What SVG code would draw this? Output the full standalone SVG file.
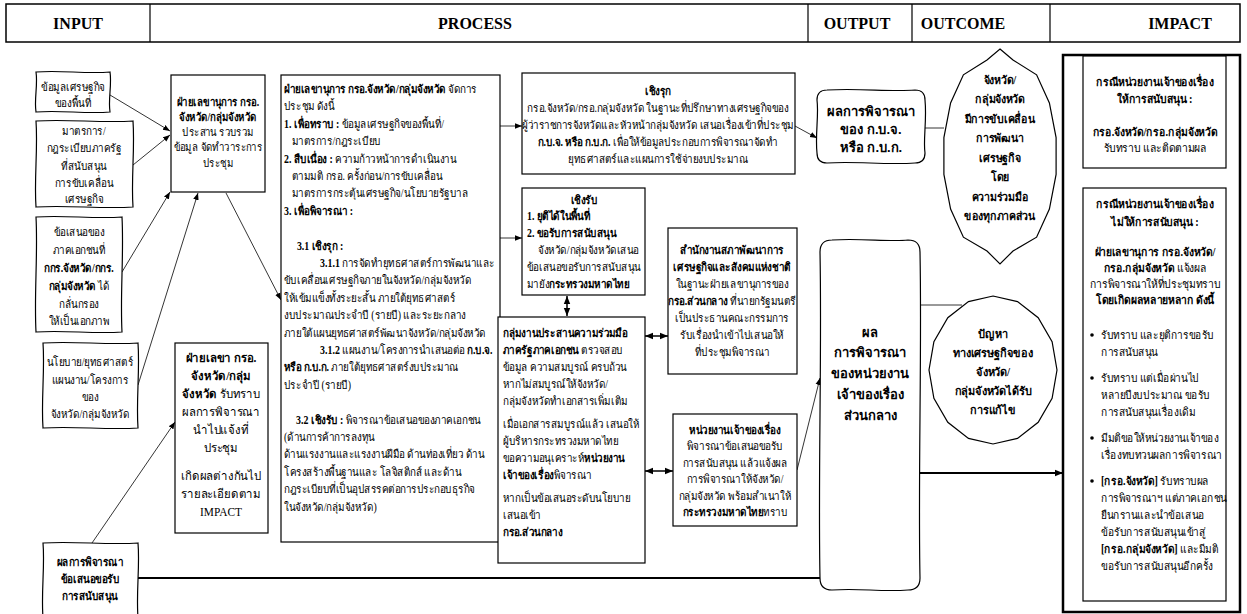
<svg xmlns="http://www.w3.org/2000/svg" width="1247" height="614" viewBox="0 0 1247 614">
<defs>
<style>
.t{font-family:"Liberation Serif",serif;font-size:11.5px;fill:#000}
.g{font-size:12px}
.b{font-weight:bold}
.m{text-anchor:middle}
.hd{font-family:"Liberation Serif",serif;font-size:16px;font-weight:bold;text-anchor:middle;fill:#000}
.sn{font-family:"Liberation Sans",sans-serif;font-size:13px;font-weight:bold;text-anchor:middle;fill:#000}
.bx{fill:#fff;stroke:#000;stroke-width:1.2}
.sk{fill:#fff;stroke:#000;stroke-width:1.2}
.ln{fill:none;stroke:#000;stroke-width:0.8}
.lnb{fill:none;stroke:#000;stroke-width:2}
.lnm{fill:none;stroke:#000;stroke-width:1.5}
</style>
<marker id="ah" viewBox="0 0 10 10" refX="10" refY="5" markerWidth="7" markerHeight="7" markerUnits="userSpaceOnUse" orient="auto-start-reverse"><path d="M0,1 L10,5 L0,9 Z" fill="#000"/></marker>
<marker id="ahb" viewBox="0 0 10 10" refX="10" refY="5" markerWidth="8" markerHeight="8" markerUnits="userSpaceOnUse" orient="auto-start-reverse"><path d="M0,1 L10,5 L0,9 Z" fill="#000"/></marker>
</defs>
<rect width="1247" height="614" fill="#fff"/>

<g id="header">
<rect x="6" y="4" width="1234" height="38" fill="none" stroke="#000" stroke-width="1.5"/>
<path d="M150,4V42M808,4V42M912,4V42M1050,4V42" stroke="#000" stroke-width="1.2"/>
<text class="hd" x="78" y="29">INPUT</text>
<text class="hd" x="475" y="29">PROCESS</text>
<text class="hd" x="857" y="29">OUTPUT</text>
<text class="hd" x="963" y="29">OUTCOME</text>
<text class="hd" x="1180" y="29">IMPACT</text>
</g>

<g id="connectors">
<path class="ln" d="M110,95L170,131" marker-end="url(#ah)"/>
<path class="ln" d="M133,165L170,135" marker-end="url(#ah)"/>
<path class="ln" d="M122,272L170,192" marker-end="url(#ah)"/>
<path class="ln" d="M138,385L198,193" marker-end="url(#ah)"/>
<path class="ln" d="M226,193L281,300" marker-end="url(#ah)"/>
<path class="ln" d="M92,543L175,422" marker-end="url(#ah)"/>
<path class="ln" d="M500,126H522" marker-end="url(#ah)"/>
<path class="ln" d="M500,238H522" marker-end="url(#ah)"/>
<path class="ln" d="M795,126L817,138" marker-end="url(#ah)"/>
<path class="lnm" d="M567,296V316" marker-start="url(#ahb)" marker-end="url(#ahb)"/>
<path class="lnm" d="M645,336H668" marker-start="url(#ahb)" marker-end="url(#ahb)"/>
<path class="lnm" d="M645,471H673" marker-start="url(#ahb)" marker-end="url(#ahb)"/>
<path class="ln" d="M797,470L820,378" marker-end="url(#ah)"/>
<path class="ln" d="M925,128H944"/>
<path class="ln" d="M920,305H962"/>
<path class="lnb" d="M920,473H1063" marker-end="url(#ahb)"/>
<path class="lnb" d="M138,578H820"/>
</g>

<g id="n-econ-data">
<path class="sk" d="M36,72 C61,70 85,74 110,72 C112,85 108,99 110,112 C85,114 61,110 36,112 C34,99 38,85 36,72Z"/>
<g transform="matrix(0.86,0,0,1,10.22,0)">
<text class="t m" x="73" y="91">ข้อมูลเศรษฐกิจ</text>
<text class="t m" x="73" y="107">ของพื้นที่</text>
</g>
</g>

<g id="n-measures">
<path class="sk" d="M36,121 C68,119 101,123 133,121 C135,150 131,178 133,207 C101,209 68,205 36,207 C34,178 38,150 36,121Z"/>
<g transform="matrix(0.86,0,0,1,11.76,0)">
<text class="t m" x="84" y="135">มาตรการ/</text>
<text class="t m" x="84" y="152">กฎระเบียบภาครัฐ</text>
<text class="t m" x="84" y="170">ที่สนับสนุน</text>
<text class="t m" x="84" y="187">การขับเคลื่อน</text>
<text class="t m" x="84" y="203">เศรษฐกิจ</text>
</g>
</g>

<g id="n-private">
<path class="sk" d="M36,217 C65,215 93,219 122,217 C124,255 120,294 122,332 C93,334 65,330 36,332 C34,294 38,255 36,217Z"/>
<g transform="matrix(0.86,0,0,1,11.06,0)">
<text class="t m" x="79" y="236">ข้อเสนอของ</text>
<text class="t m" x="79" y="254">ภาคเอกชนที่</text>
<text class="t m b" x="79" y="272">กกร.จังหวัด/กกร.</text>
<text class="t m" x="79" y="290"><tspan class="b">กลุ่มจังหวัด</tspan> ได้</text>
<text class="t m" x="79" y="308">กลั่นกรอง</text>
<text class="t m" x="79" y="325">ให้เป็นเอกภาพ</text>
</g>
</g>

<g id="n-policy">
<path class="sk" d="M43,343 C75,341 106,345 138,343 C140,371 136,400 138,428 C106,430 75,426 43,428 C41,400 45,371 43,343Z"/>
<g transform="matrix(0.86,0,0,1,12.6,0)">
<text class="t m" x="90" y="366">นโยบาย/ยุทธศาสตร์</text>
<text class="t m" x="90" y="384">แผนงาน/โครงการ</text>
<text class="t m" x="90" y="401">ของ</text>
<text class="t m" x="90" y="418">จังหวัด/กลุ่มจังหวัด</text>
</g>
</g>

<g id="n-result">
<path class="sk" d="M43,543 C75,541 106,545 138,543 C140,567 136,592 138,618 L43,618 C41,592 45,567 43,543Z"/>
<g transform="matrix(0.86,0,0,1,12.6,0)">
<text class="t m b" x="90" y="566">ผลการพิจารณา</text>
<text class="t m b" x="90" y="583">ข้อเสนอขอรับ</text>
<text class="t m b" x="90" y="600">การสนับสนุน</text>
</g>
</g>

<g id="n-secretariat">
<rect class="bx" x="171" y="75" width="94" height="117"/>
<g transform="matrix(0.84,0,0,1,34.88,0)">
<text class="t m b" x="218" y="106">ฝ่ายเลขานุการ กรอ.</text>
<text class="t m b" x="218" y="121">จังหวัด/กลุ่มจังหวัด</text>
<text class="t m" x="218" y="136">ประสาน รวบรวม</text>
<text class="t m" x="218" y="151">ข้อมูล จัดทำวาระการ</text>
<text class="t m" x="218" y="167">ประชุม</text>
</g>
</g>

<g id="n-secretariat-ack">
<rect class="bx" x="175" y="343" width="93" height="190"/>
<g transform="matrix(0.95,0,0,1,11.05,0)">
<text class="t g m b" x="221" y="362">ฝ่ายเลขา กรอ.</text>
<text class="t g m b" x="221" y="380">จังหวัด/กลุ่ม</text>
<text class="t g m" x="221" y="398"><tspan class="b">จังหวัด</tspan> รับทราบ</text>
<text class="t g m" x="221" y="416">ผลการพิจารณา</text>
<text class="t g m" x="221" y="434">นำไปแจ้งที่</text>
<text class="t g m" x="221" y="452">ประชุม</text>
<text class="t g m" x="221" y="480">เกิดผลต่างกันไป</text>
<text class="t g m" x="221" y="498">รายละเอียดตาม</text>
<text class="t g m" x="221" y="516">IMPACT</text>
</g>
</g>

<g id="n-meeting">
<rect class="bx" x="281" y="75" width="219" height="467"/>
<g transform="matrix(0.86,0,0,1,39.76,0)">
<text class="t" x="284" y="93"><tspan class="b">ฝ่ายเลขานุการ กรอ.จังหวัด/กลุ่มจังหวัด</tspan> จัดการ</text>
<text class="t" x="284" y="110">ประชุม ดังนี้</text>
<text class="t" x="284" y="128"><tspan class="b">1. เพื่อทราบ :</tspan> ข้อมูลเศรษฐกิจของพื้นที่/</text>
<text class="t" x="293.3" y="145">มาตรการ/กฎระเบียบ</text>
<text class="t" x="284" y="163"><tspan class="b">2. สืบเนื่อง :</tspan> ความก้าวหน้าการดำเนินงาน</text>
<text class="t" x="293.3" y="180">ตามมติ กรอ. ครั้งก่อน/การขับเคลื่อน</text>
<text class="t" x="293.3" y="197">มาตรการกระตุ้นเศรษฐกิจ/นโยบายรัฐบาล</text>
<text class="t b" x="284" y="215">3. เพื่อพิจารณา :</text>
<text class="t b" x="299" y="250">3.1 เชิงรุก :</text>
<text class="t" x="326" y="267"><tspan class="b">3.1.1</tspan> การจัดทำยุทธศาสตร์การพัฒนาและ</text>
<text class="t" x="284" y="284">ขับเคลื่อนเศรษฐกิจภายในจังหวัด/กลุ่มจังหวัด</text>
<text class="t" x="284" y="302">ให้เข้มแข็งทั้งระยะสั้น ภายใต้ยุทธศาสตร์</text>
<text class="t" x="284" y="319">งบประมาณประจำปี (รายปี) และระยะกลาง</text>
<text class="t" x="284" y="337">ภายใต้แผนยุทธศาสตร์พัฒนาจังหวัด/กลุ่มจังหวัด</text>
<text class="t" x="326" y="354"><tspan class="b">3.1.2</tspan> แผนงาน/โครงการนำเสนอต่อ <tspan class="b">ก.บ.จ.</tspan></text>
<text class="t" x="284" y="371"><tspan class="b">หรือ ก.บ.ก.</tspan> ภายใต้ยุทธศาสตร์งบประมาณ</text>
<text class="t" x="284" y="389">ประจำปี (รายปี)</text>
<text class="t" x="298" y="424"><tspan class="b">3.2 เชิงรับ :</tspan> พิจารณาข้อเสนอของภาคเอกชน</text>
<text class="t" x="284" y="441">(ด้านการค้าการลงทุน</text>
<text class="t" x="284" y="458">ด้านแรงงานและแรงงานฝีมือ ด้านท่องเที่ยว ด้าน</text>
<text class="t" x="284" y="476">โครงสร้างพื้นฐานและ โลจิสติกส์ และด้าน</text>
<text class="t" x="284" y="493">กฎระเบียบที่เป็นอุปสรรคต่อการประกอบธุรกิจ</text>
<text class="t" x="284" y="511">ในจังหวัด/กลุ่มจังหวัด)</text>
</g>
</g>

<g id="n-proactive">
<rect class="bx" x="522" y="73" width="273" height="101"/>
<g transform="matrix(0.86,0,0,1,92.12,0)">
<text class="t m b" x="658" y="95">เชิงรุก</text>
<text class="t m" x="658" y="112">กรอ.จังหวัด/กรอ.กลุ่มจังหวัด ในฐานะที่ปรึกษาทางเศรษฐกิจของ</text>
<text class="t m" x="658" y="129">ผู้ว่าราชการจังหวัดและหัวหน้ากลุ่มจังหวัด เสนอเรื่องเข้าที่ประชุม</text>
<text class="t m" x="658" y="146"><tspan class="b">ก.บ.จ. หรือ ก.บ.ก.</tspan> เพื่อให้ข้อมูลประกอบการพิจารณาจัดทำ</text>
<text class="t m" x="658" y="163">ยุทธศาสตร์และแผนการใช้จ่ายงบประมาณ</text>
</g>
</g>

<g id="n-reactive">
<rect class="bx" x="522" y="188" width="123" height="107"/>
<g transform="matrix(0.86,0,0,1,73.78,0)">
<text class="t m b" x="593.3" y="204">เชิงรับ</text>
<text class="t b" x="527" y="220">1. ยุติได้ในพื้นที่</text>
<text class="t b" x="527" y="237">2. ขอรับการสนับสนุน</text>
<text class="t" x="540" y="254">จังหวัด/กลุ่มจังหวัดเสนอ</text>
<text class="t" x="527" y="271">ข้อเสนอขอรับการสนับสนุน</text>
<text class="t" x="527" y="288">มายัง<tspan class="b">กระทรวงมหาดไทย</tspan></text>
</g>
</g>

<g id="n-coordination">
<rect class="bx" x="498" y="317" width="147" height="246"/>
<g transform="matrix(0.86,0,0,1,70.42,0)">
<text class="t b" x="503" y="337">กลุ่มงานประสานความร่วมมือ</text>
<text class="t" x="503" y="354"><tspan class="b">ภาครัฐภาคเอกชน</tspan> ตรวจสอบ</text>
<text class="t" x="503" y="371">ข้อมูล ความสมบูรณ์ ครบถ้วน</text>
<text class="t" x="503" y="388">หากไม่สมบูรณ์ให้จังหวัด/</text>
<text class="t" x="503" y="405">กลุ่มจังหวัดทำเอกสารเพิ่มเติม</text>
<text class="t" x="503" y="428">เมื่อเอกสารสมบูรณ์แล้ว เสนอให้</text>
<text class="t" x="503" y="445">ผู้บริหารกระทรวงมหาดไทย</text>
<text class="t" x="503" y="462">ขอความอนุเคราะห์<tspan class="b">หน่วยงาน</tspan></text>
<text class="t" x="503" y="479"><tspan class="b">เจ้าของเรื่อง</tspan>พิจารณา</text>
<text class="t" x="503" y="502">หากเป็นข้อเสนอระดับนโยบาย</text>
<text class="t" x="503" y="519">เสนอเข้า</text>
<text class="t b" x="503" y="536">กรอ.ส่วนกลาง</text>
</g>
</g>

<g id="n-nesdc">
<rect class="bx" x="668" y="228" width="129" height="146"/>
<g transform="matrix(0.86,0,0,1,102.48,0)">
<text class="t m b" x="732" y="254">สำนักงานสภาพัฒนาการ</text>
<text class="t m b" x="732" y="271">เศรษฐกิจและสังคมแห่งชาติ</text>
<text class="t m" x="732" y="288">ในฐานะฝ่ายเลขานุการของ</text>
<text class="t m" x="732" y="305"><tspan class="b">กรอ.ส่วนกลาง</tspan> ที่นายกรัฐมนตรี</text>
<text class="t m" x="732" y="322">เป็นประธานคณะกรรมการ</text>
<text class="t m" x="732" y="339">รับเรื่องนำเข้าไปเสนอให้</text>
<text class="t m" x="732" y="356">ที่ประชุมพิจารณา</text>
</g>
</g>

<g id="n-owner">
<rect class="bx" x="673" y="414" width="124" height="112"/>
<g transform="matrix(0.86,0,0,1,102.9,0)">
<text class="t m b" x="735" y="434">หน่วยงานเจ้าของเรื่อง</text>
<text class="t m" x="735" y="450">พิจารณาข้อเสนอขอรับ</text>
<text class="t m" x="735" y="467">การสนับสนุน แล้วแจ้งผล</text>
<text class="t m" x="735" y="483">การพิจารณาให้จังหวัด/</text>
<text class="t m" x="735" y="500">กลุ่มจังหวัด พร้อมสำเนาให้</text>
<text class="t m" x="735" y="516"><tspan class="b">กระทรวงมหาดไทย</tspan>ทราบ</text>
</g>
</g>

<g id="n-out-kbj">
<path class="sk" d="M827,90 C860,88 890,92 915,90 Q925,90 925,100 C927,120 923,140 925,153 Q925,163 915,163 C885,165 855,161 827,163 Q817,163 817,153 C815,135 819,115 817,100 Q817,90 827,90Z"/>
<text class="sn" x="871" y="116">ผลการพิจารณา</text>
<text class="sn" x="871" y="134">ของ ก.บ.จ.</text>
<text class="sn" x="871" y="152">หรือ ก.บ.ก.</text>
</g>

<g id="n-out-owner">
<path class="sk" d="M832,240 C860,238 890,242 908,240 Q920,240 920,252 C922,350 918,480 920,578 Q920,590 908,590 C880,592 860,588 832,590 Q820,590 820,578 C818,480 822,350 820,252 Q820,240 832,240Z"/>
<text class="sn" x="870" y="337">ผล</text>
<text class="sn" x="870" y="357">การพิจารณา</text>
<text class="sn" x="870" y="378">ของหน่วยงาน</text>
<text class="sn" x="870" y="399">เจ้าของเรื่อง</text>
<text class="sn" x="870" y="420">ส่วนกลาง</text>
</g>

<g id="n-outcome-drive">
<polygon class="sk" points="1000,49 1013,60 1036.6,74.8 1049.4,103 1056.1,137.6 1056.1,174.4 1049.4,209 1036.6,237.2 1013,251 1000,264 987,251 963.4,237.2 950.6,209 943.9,174.4 943.9,137.6 950.6,103 963.4,74.8 987,60"/>
<g transform="matrix(0.92,0,0,1,80,0)">
<text class="t m b" x="1000" y="84">จังหวัด/</text>
<text class="t m b" x="1000" y="103">กลุ่มจังหวัด</text>
<text class="t m b" x="1000" y="123">มีการขับเคลื่อน</text>
<text class="t m b" x="1000" y="142">การพัฒนา</text>
<text class="t m b" x="1000" y="162">เศรษฐกิจ</text>
<text class="t m b" x="1000" y="181">โดย</text>
<text class="t m b" x="1000" y="201">ความร่วมมือ</text>
<text class="t m b" x="1000" y="220">ของทุกภาคส่วน</text>
</g>
</g>

<g id="n-outcome-solved">
<polygon class="sk" points="993,296 1017.5,301.6 1038.2,317.7 1052.1,341.7 1057,370 1052.1,398.3 1038.2,422.3 1017.5,438.4 993,444 968.5,438.4 947.8,422.3 933.9,398.3 929,370 933.9,341.7 947.8,317.7 968.5,301.6"/>
<g transform="matrix(0.95,0,0,1,49.65,0)">
<text class="t m b" x="993" y="338">ปัญหา</text>
<text class="t m b" x="993" y="357">ทางเศรษฐกิจของ</text>
<text class="t m b" x="993" y="376">จังหวัด/</text>
<text class="t m b" x="993" y="395">กลุ่มจังหวัดได้รับ</text>
<text class="t m b" x="993" y="414">การแก้ไข</text>
</g>
</g>

<g id="n-impact">
<rect x="1063" y="55" width="177" height="557" fill="#fff" stroke="#000" stroke-width="2.5"/>
<g id="n-impact-support">
<rect class="bx" x="1083" y="56" width="143" height="112"/>
<g transform="matrix(0.9,0,0,1,115.5,0)">
<text class="t m b" x="1155" y="86">กรณีหน่วยงานเจ้าของเรื่อง</text>
<text class="t m b" x="1155" y="103">ให้การสนับสนุน :</text>
<text class="t m b" x="1155" y="136">กรอ.จังหวัด/กรอ.กลุ่มจังหวัด</text>
<text class="t m" x="1155" y="152">รับทราบ และติดตามผล</text>
</g>
</g>
<g id="n-impact-nosupport">
<rect class="bx" x="1083" y="188" width="143" height="413"/>
<g transform="matrix(0.9,0,0,1,115.5,0)">
<text class="t m b" x="1155" y="208">กรณีหน่วยงานเจ้าของเรื่อง</text>
<text class="t m b" x="1155" y="226">ไม่ให้การสนับสนุน :</text>
<text class="t m b" x="1155" y="256">ฝ่ายเลขานุการ กรอ.จังหวัด/</text>
<text class="t m" x="1155" y="272"><tspan class="b">กรอ.กลุ่มจังหวัด</tspan> แจ้งผล</text>
<text class="t m" x="1155" y="288">การพิจารณาให้ที่ประชุมทราบ</text>
<text class="t m b" x="1155" y="304">โดยเกิดผลหลายหลาก ดังนี้</text>
</g>
<circle cx="1092" cy="335" r="1.8"/>
<circle cx="1092" cy="378" r="1.8"/>
<circle cx="1092" cy="438" r="1.8"/>
<circle cx="1092" cy="481" r="1.8"/>
<g transform="matrix(0.88,0,0,1,132.12,0)">
<text class="t" x="1101" y="339">รับทราบ และยุติการขอรับ</text>
<text class="t" x="1101" y="356">การสนับสนุน</text>
<text class="t" x="1101" y="382">รับทราบ แต่เมื่อผ่านไป</text>
<text class="t" x="1101" y="399">หลายปีงบประมาณ ขอรับ</text>
<text class="t" x="1101" y="416">การสนับสนุนเรื่องเดิม</text>
<text class="t" x="1101" y="442">มีมติขอให้หน่วยงานเจ้าของ</text>
<text class="t" x="1101" y="459">เรื่องทบทวนผลการพิจารณา</text>
<text class="t" x="1101" y="485"><tspan class="b">[กรอ.จังหวัด]</tspan> รับทราบผล</text>
<text class="t" x="1101" y="502">การพิจารณาฯ แต่ภาคเอกชน</text>
<text class="t" x="1101" y="519">ยืนกรานและนำข้อเสนอ</text>
<text class="t" x="1101" y="536">ข้อรับการสนับสนุนเข้าสู่</text>
<text class="t" x="1101" y="553"><tspan class="b">[กรอ.กลุ่มจังหวัด]</tspan> และมีมติ</text>
<text class="t" x="1101" y="570">ขอรับการสนับสนุนอีกครั้ง</text>
</g>
</g>
</g>
</svg>
